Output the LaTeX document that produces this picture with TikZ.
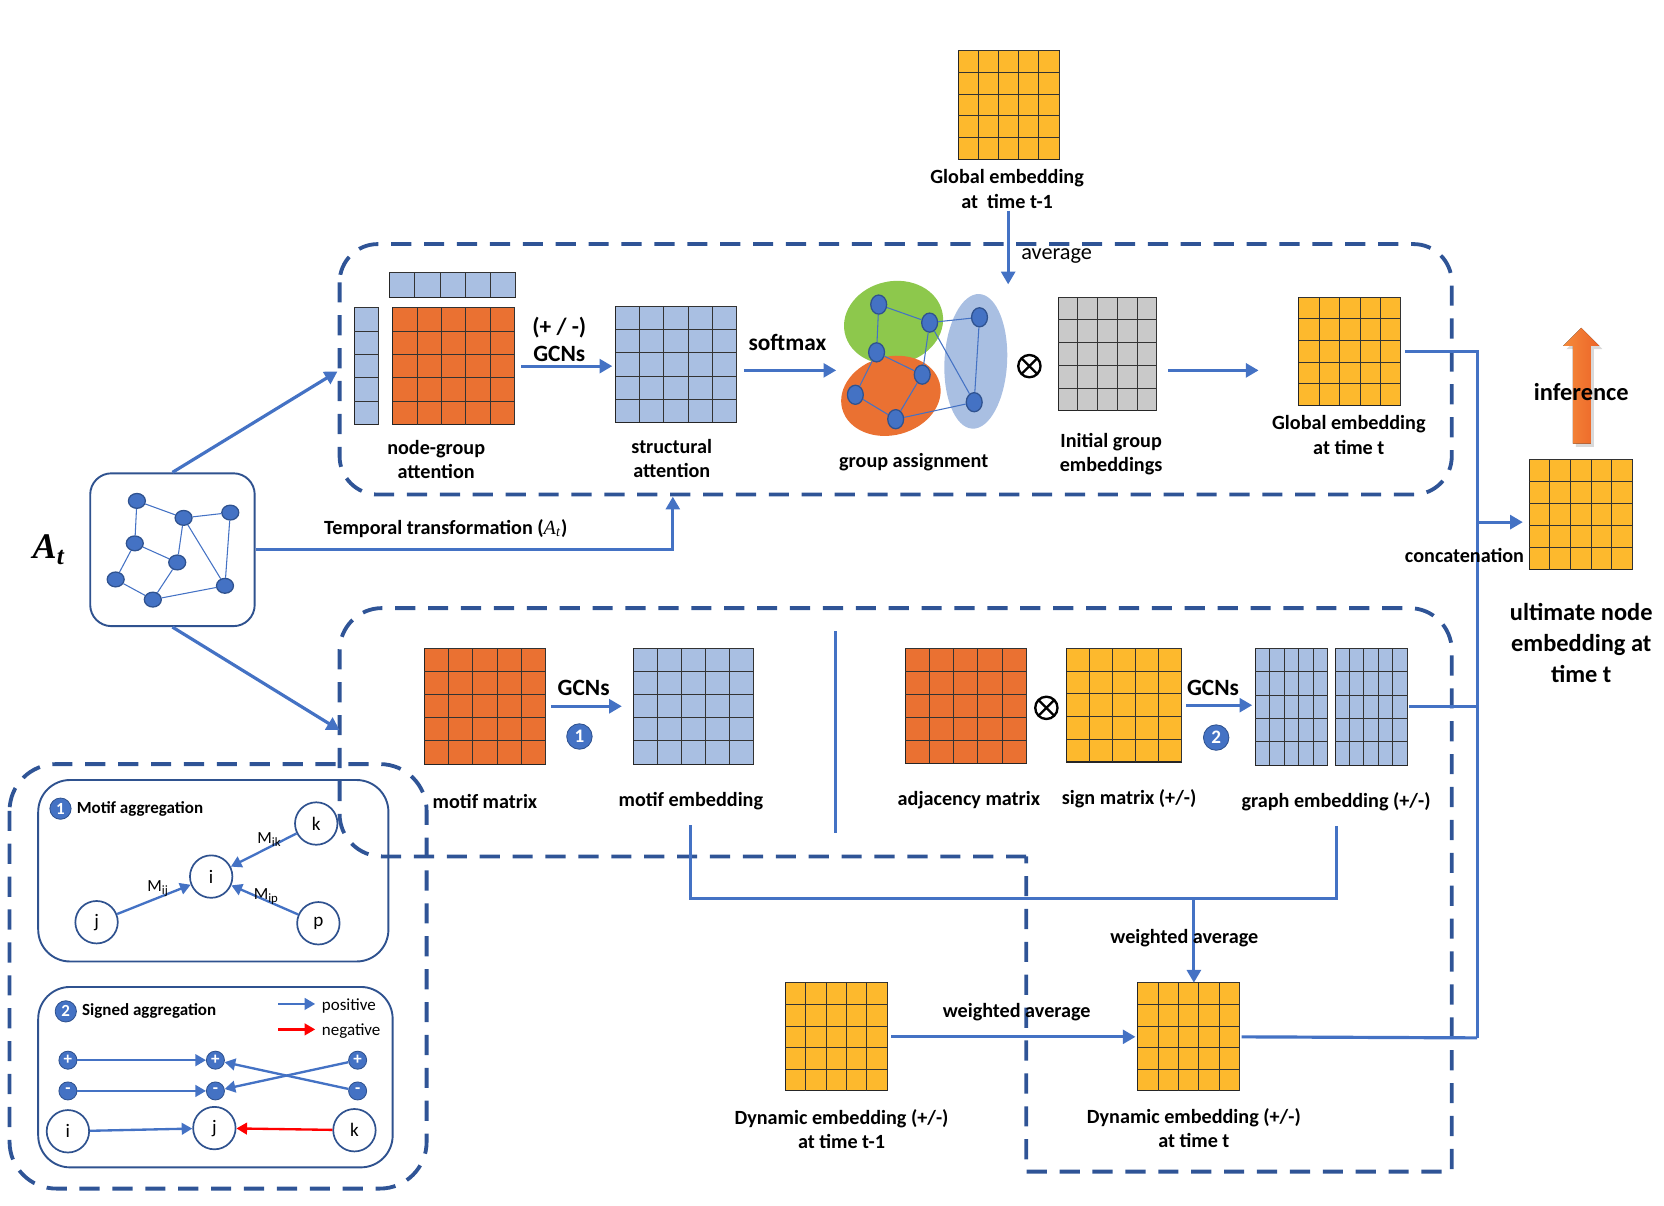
\documentclass[tikz,border=0pt]{standalone}
\usepackage{fontspec}
\setmainfont{Carlito}
\newfontfamily\mathserif{Liberation Serif}
\usetikzlibrary{arrows.meta,calc,shapes.geometric,positioning,shadows}

\definecolor{dashblue}{HTML}{2F5496}
\definecolor{lineblue}{HTML}{4472C4}
\definecolor{nodeedge}{HTML}{2F528F}
\definecolor{matorange}{HTML}{EA7132}
\definecolor{matyellow}{HTML}{FDB92D}
\definecolor{matblue}{HTML}{A9BFE2}
\definecolor{matgray}{HTML}{C9C9C9}
\definecolor{grpgreen}{HTML}{8DC84C}
\definecolor{infa}{HTML}{F58A3A}
\definecolor{infb}{HTML}{EC6428}

\tikzset{
  mat/.style={draw=black!85, line width=0.5pt, inner sep=0pt, outer sep=0pt},
  gridline/.style={draw=black!80, line width=0.45pt},
  lbl/.style={font=\fontsize{9.5}{11.5}\selectfont\bfseries, align=center, inner sep=1pt},
  gcn/.style={font=\fontsize{11}{12.5}\selectfont\bfseries, align=center, inner sep=1pt},
  biglbl/.style={font=\fontsize{11.5}{14.5}\selectfont\bfseries, align=center, inner sep=1pt},
  small/.style={font=\fontsize{8}{9}\selectfont\bfseries, inner sep=1pt},
  plain/.style={font=\fontsize{8}{9}\selectfont, inner sep=1pt},
  flow/.style={draw=lineblue, line width=1.5pt, -{Triangle[length=6pt,width=6.5pt]}},
  mflow/.style={draw=lineblue, line width=1.1pt, -{Triangle[length=5pt,width=5.5pt]}},
  link/.style={draw=lineblue, line width=1.5pt},
  dashbox/.style={draw=dashblue, line width=1.8pt, dash pattern=on 9.5pt off 6pt},
  gnode/.style={ellipse, fill=lineblue, draw=nodeedge, line width=0.6pt, minimum width=7.5pt, minimum height=9pt, inner sep=0pt},
  anode/.style={ellipse, fill=lineblue, draw=nodeedge, line width=0.6pt, minimum width=8pt, minimum height=7pt, inner sep=0pt},
  gedge/.style={draw=lineblue, line width=0.5pt},
  vnode/.style={circle, draw=nodeedge, line width=0.8pt, minimum size=20pt, inner sep=0pt, fill=white, font=\fontsize{9}{9}\selectfont},
  numcirc/.style={circle, fill=lineblue, draw=nodeedge, text=white, inner sep=0pt, minimum size=12pt, font=\fontsize{9}{9}\selectfont\bfseries},
  signc/.style={circle, fill=lineblue, draw=nodeedge, text=white, inner sep=0pt, minimum size=8.5pt, font=\fontsize{8}{8}\selectfont\bfseries},
  otimes/.style={circle, draw=black, line width=1.1pt, minimum size=10.5pt, inner sep=0pt,
    path picture={\draw[line width=1.1pt] (path picture bounding box.north west) -- (path picture bounding box.south east)
      (path picture bounding box.north east) -- (path picture bounding box.south west);}},
}

\newcommand{\gridmat}[8]{%
  \node[mat, fill=#6, minimum width=#4*0.5pt, minimum height=#5*0.5pt] (#1) at (#2,#3) {};
  \foreach \k in {1,...,#7}
    \draw[gridline] ($(#1.south west)!\k/#7!(#1.south east)$) -- ($(#1.north west)!\k/#7!(#1.north east)$);
  \foreach \k in {1,...,#8}
    \draw[gridline] ($(#1.south west)!\k/#8!(#1.north west)$) -- ($(#1.south east)!\k/#8!(#1.north east)$);
}

\begin{document}
\begin{tikzpicture}[x=0.5pt,y=-0.5pt]
\useasboundingbox (0,0) rectangle (1568,1136);

\draw[dashbox, rounded corners=18pt] (320,230) rectangle (1368,466);
\draw[dashbox] (967,807) [rounded corners=20pt] -- (320,807) -- (320,573) -- (1368,573) [sharp corners] -- (1368,1104) -- (967,1104) -- cycle;
\draw[dashbox, rounded corners=22pt] (9,720) rectangle (402,1120);

\gridmat{gprev}{950.5}{99}{95}{102}{matyellow}{5}{5}
\node[lbl] (gprevlbl) at (949,178) {Global embedding\\at\ \ time t-1};
\coordinate (avgin) at (950,268);
\draw[flow] (gprevlbl.south -| avgin) -- (avgin);
\node[font=\fontsize{10.5}{12}\selectfont, anchor=west, inner sep=1pt] at (960,241) {average};

\gridmat{topvec}{426.5}{268.5}{119}{23}{matblue}{5}{1}
\gridmat{leftvec}{345.5}{345}{23}{110}{matblue}{1}{5}
\gridmat{attmat}{427.5}{345}{115}{110}{matorange}{5}{5}
\node[lbl] (attlbl) at (411,433) {node-group\\attention};
\node[gcn] (gcnlbl) at (527,320) {(+ / -)\\GCNs};
\gridmat{structmat}{637}{343.5}{114}{109}{matblue}{5}{5}
\draw[flow, shorten <=3pt, shorten >=1.5pt] (attmat.east) -- (structmat.west |- attmat.east);
\node[lbl] (structlbl) at (633,432) {structural\\attention};
\node[gcn] (softlbl) at (742,323) {softmax};
\coordinate (grpin) at (788,349);
\draw[flow, shorten <=3.5pt] (structmat.east |- grpin) -- (grpin);

\node[ellipse, fill=grpgreen, minimum width=47pt, minimum height=39pt, rotate=12] (grpa) at (842,304) {};
\node[ellipse, fill=matorange, minimum width=47.5pt, minimum height=37pt, rotate=15] (grpb) at (839.5,373) {};
\node[ellipse, fill=matblue, minimum width=29.5pt, minimum height=63.5pt, rotate=-3] (grpc) at (919.5,340.5) {};
\node[gnode] (g1) at (828,287) {};
\node[gnode] (g2) at (876,304) {};
\node[gnode] (g3) at (923,299) {};
\node[gnode] (g4) at (826,332) {};
\node[gnode] (g5) at (869,353) {};
\node[gnode] (g6) at (806,372) {};
\node[gnode] (g7) at (844,395) {};
\node[gnode] (g8) at (918,379) {};
\foreach \u/\v in {g1/g2,g1/g4,g2/g3,g2/g5,g2/g8,g3/g8,g4/g5,g4/g6,g6/g7,g7/g5,g7/g8}
  \draw[gedge] (\u) -- (\v);
\node[lbl] (grplbl) at (861,435) {group assignment};

\node[otimes] (otimesa) at (970,345) {};
\gridmat{initmat}{1043.5}{333.5}{93}{107}{matgray}{5}{5}
\node[lbl] (initlbl) at (1047,428) {Initial group\\embeddings};
\coordinate (gin) at (1186,349);
\draw[flow, shorten <=5.5pt] (initmat.east |- gin) -- (gin);
\gridmat{gcur}{1272}{331}{96}{102}{matyellow}{5}{5}
\node[lbl] (gcurlbl) at (1271,410) {Global embedding\\at time t};

\coordinate (bustop) at (1392,331);
\coordinate (busmid) at (1392,492);
\coordinate (busbot) at (1392,978);
\draw[link, shorten <=2pt] (gcur.east) -- (bustop) -- (busbot);
\gridmat{ultim}{1489.5}{485}{97}{104}{matyellow}{5}{5}
\draw[flow, shorten >=3pt] (busmid) -- (busmid -| ultim.west);
\node[lbl] (catlbl) at (1380,523) {concatenation};
\node[biglbl] (ultlbl) at (1490,606) {ultimate node\\embedding at\\time t};
\fill[left color=infa, right color=infb, drop shadow={opacity=0.3, shadow xshift=1.5pt, shadow yshift=-1.5pt}]
  (1482,418) -- (1482,326) -- (1473,326) -- (1490,309) -- (1507,326) -- (1499,326) -- (1499,418) -- cycle;
\node[biglbl] (inflbl) at (1490,369) {inference};

\node[draw=nodeedge, line width=0.9pt, rounded corners=10pt, minimum width=77.5pt, minimum height=72pt] (atbox) at (162.5,518) {};
\node[anode] (a1) at (129,472) {};
\node[anode] (a2) at (173,488) {};
\node[anode] (a3) at (217,483) {};
\node[anode] (a4) at (127,512) {};
\node[anode] (a5) at (167,530) {};
\node[anode] (a6) at (109,546) {};
\node[anode] (a7) at (144,565) {};
\node[anode] (a8) at (212,552) {};
\foreach \u/\v in {a1/a2,a1/a4,a2/a3,a2/a5,a2/a8,a3/a8,a4/a5,a4/a6,a6/a7,a5/a7,a7/a8}
  \draw[gedge] (\u) -- (\v);
\node[font=\fontsize{17}{17}\selectfont\mathserif\bfseries\itshape] (atlbl) at (46,518) {A\textsubscript{t}};
\coordinate (upin) at (318,350);
\coordinate (lowin) at (320,688);
\coordinate (tempin) at (634,468);
\draw[flow] (atbox.north) -- (upin);
\draw[flow] (atbox.south) -- (lowin);
\draw[flow] (atbox.east) -| (tempin);
\node[lbl] (templbl) at (420,498) {Temporal transformation ({\mathserif\mdseries\itshape A\textsubscript{t}})};

\gridmat{motifmat}{457}{665.5}{114}{109}{matorange}{5}{5}
\gridmat{motifemb}{653.5}{665.5}{113}{109}{matblue}{5}{5}
\draw[flow, shorten <=2.5pt, shorten >=5.5pt] (motifmat.east) -- (motifemb.west |- motifmat.east);
\node[gcn] (gcnb) at (550,648) {GCNs};
\node[numcirc] (numa) at (546,694) {1};
\node[lbl] (motiflbl) at (457,755) {motif matrix};
\node[lbl] (memblbl) at (651,755) {motif embedding};
\draw[link] (787,595) -- (787,785);
\gridmat{adjmat}{910}{665}{114}{108}{matorange}{5}{5}
\node[otimes] (otimesb) at (986,667) {};
\gridmat{signmat}{1059}{664.5}{108}{107}{matyellow}{5}{5}
\gridmat{gemba}{1217}{666}{68}{110}{matblue}{5}{5}
\gridmat{gembb}{1292}{666}{68}{110}{matblue}{5}{5}
\draw[flow, shorten <=2.5pt, shorten >=1.5pt] (signmat.east) -- (gemba.west |- signmat.east);
\node[gcn] (gcnc) at (1143,648) {GCNs};
\node[numcirc] (numb) at (1146,695) {2};
\node[lbl] (adjlbl) at (913,754) {adjacency matrix};
\node[lbl] (signlbl) at (1064,753) {sign matrix (+/-)};
\node[lbl] (gemblbl) at (1259,755) {graph embedding (+/-)};
\draw[link, shorten <=1pt] (gembb.east) -- (gembb.east -| bustop);

\gridmat{dynprev}{788}{977}{96}{102}{matyellow}{5}{5}
\gridmat{dyncur}{1120}{977}{96}{102}{matyellow}{5}{5}
\coordinate (wjoin) at (1125,847);
\draw[link, shorten <=6pt, shorten >=6pt] (memblbl.south) |- (wjoin) -| (gemblbl.south);
\draw[flow] (wjoin) -- (wjoin |- dyncur.north);
\node[lbl] (wavga) at (1116,884) {weighted average};
\draw[flow, shorten <=2pt, shorten >=1pt] (dynprev.east) -- (dyncur.west);
\node[lbl] (wavgb) at (958,954) {weighted average};
\draw[link, shorten <=1pt] (dyncur.east) -- (busbot);
\node[lbl] (dprevlbl) at (793,1064) {Dynamic embedding (+/-)\\at time t-1};
\node[lbl] (dcurlbl) at (1125,1063) {Dynamic embedding (+/-)\\at time t};

\draw[draw=nodeedge, line width=0.9pt, rounded corners=15pt] (36,735) rectangle (366,906);
\node[numcirc, minimum size=10pt, font=\fontsize{8}{8}\selectfont\bfseries] (numc) at (57,762) {1};
\node[small, anchor=west] (motiftit) at (70,762) {Motif aggregation};
\node[vnode] (mk) at (298,776) {k};
\node[vnode] (mi) at (199,826) {i};
\node[vnode] (mj) at (91,869) {j};
\node[vnode] (mp) at (300,870) {p};
\draw[mflow] (mk) -- (mi);
\draw[mflow] (mj) -- (mi);
\draw[mflow] (mp) -- (mi);
\node[plain] at (254,791) {M\textsubscript{ik}};
\node[plain] at (149,837) {M\textsubscript{ij}};
\node[plain] at (251,845) {M\textsubscript{ip}};

\draw[draw=nodeedge, line width=0.9pt, rounded corners=15pt] (36,930) rectangle (370,1100);
\node[numcirc, minimum size=10pt, font=\fontsize{8}{8}\selectfont\bfseries] (numd) at (62,953) {2};
\node[small, anchor=west] (signtit) at (75,953) {Signed aggregation};
\coordinate (posa) at (262,946);
\coordinate (posb) at (297,946);
\coordinate (nega) at (262,970);
\coordinate (negb) at (297,970);
\draw[mflow] (posa) -- (posb);
\draw[mflow, draw=red] (nega) -- (negb);
\node[plain, anchor=west] at (301,948) {positive};
\node[plain, anchor=west] at (301,972) {negative};
\node[signc] (spa) at (64,999) {+};
\node[signc] (sma) at (64,1028) {-};
\node[signc] (spb) at (203,999) {+};
\node[signc] (smb) at (203,1028) {-};
\node[signc] (spc) at (337,999) {+};
\node[signc] (smc) at (337,1028) {-};
\draw[mflow] (spa) -- (spb);
\draw[mflow] (sma) -- (smb);
\draw[mflow] (spc) -- (smb);
\draw[mflow] (smc) -- (spb);
\node[vnode] (si) at (64,1066) {i};
\node[vnode] (sj) at (202,1063) {j};
\node[vnode] (sk) at (334,1065) {k};
\draw[mflow] (si) -- (sj);
\draw[mflow, draw=red] (sk) -- (sj);
\end{tikzpicture}
\end{document}
